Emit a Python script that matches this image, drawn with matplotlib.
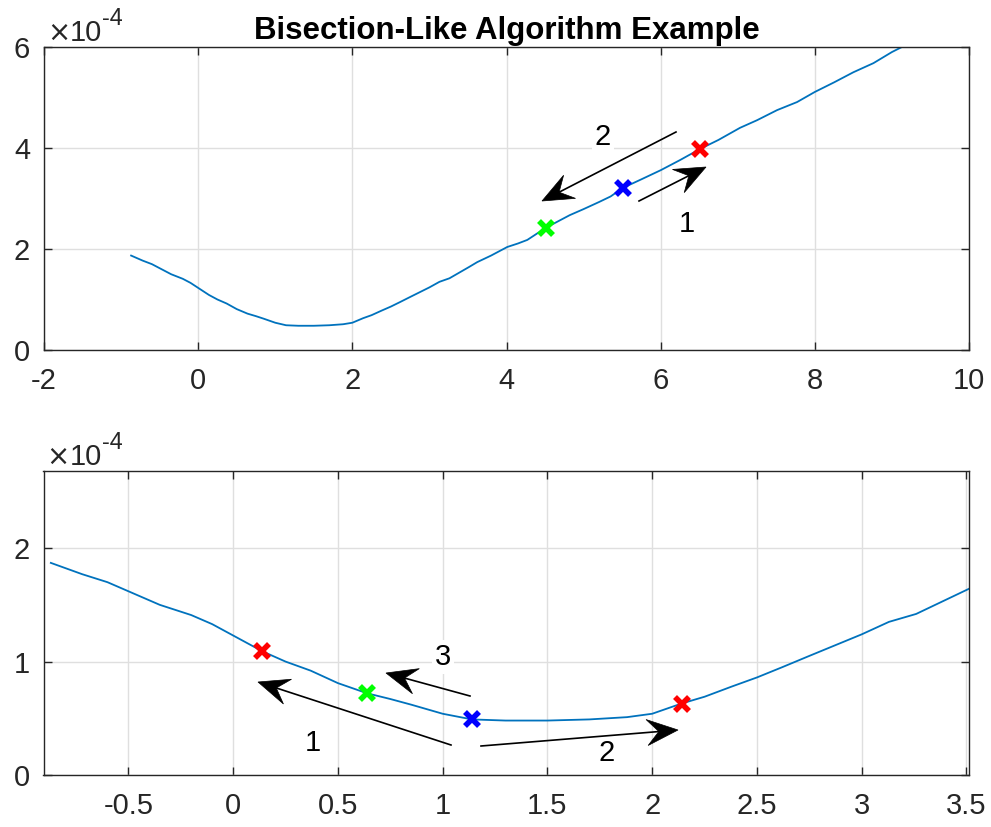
import matplotlib
matplotlib.use('Agg')
import matplotlib.pyplot as plt
import numpy as np
from matplotlib.patches import Polygon
from matplotlib.ticker import FuncFormatter

plt.rcParams['font.family'] = ['Liberation Sans', 'DejaVu Sans']

# curve (y in units of 1e-4)
x = [-0.87, -0.72, -0.6, -0.45, -0.35, -0.2, -0.1, 0.0, 0.14, 0.25, 0.37, 0.5,
     0.64, 0.75, 0.85, 1.0, 1.14, 1.3, 1.5, 1.7, 1.88, 2.0, 2.14, 2.25, 2.38,
     2.5, 2.62, 2.75, 3.0, 3.13, 3.26, 3.51, 3.62, 3.8, 4.01, 4.15, 4.27, 4.51,
     4.82, 5.0, 5.2, 5.35, 5.51, 5.75, 6.0, 6.25, 6.51, 6.75, 7.03, 7.25, 7.51,
     7.77, 8.0, 8.25, 8.5, 8.76, 9.0, 9.13, 9.4, 9.7, 10.0]
y = [1.87, 1.77, 1.70, 1.58, 1.50, 1.41, 1.33, 1.23, 1.09, 1.00, 0.92, 0.81,
     0.72, 0.67, 0.62, 0.54, 0.49, 0.48, 0.48, 0.49, 0.51, 0.54, 0.63, 0.69, 0.78,
     0.86, 0.95, 1.05, 1.24, 1.35, 1.42, 1.64, 1.74, 1.87, 2.04, 2.11, 2.18, 2.42,
     2.67, 2.79, 2.93, 3.04, 3.21, 3.38, 3.56, 3.76, 3.98, 4.16, 4.40, 4.55, 4.75,
     4.91, 5.11, 5.30, 5.50, 5.68, 5.90, 6.00, 6.20, 6.42, 6.65]

# search points
top_px = [4.51, 5.51, 6.51]
top_py = [2.42, 3.21, 3.98]
top_pc = ['#00ff00', '#0000ff', '#ff0000']
bot_px = [0.14, 0.64, 1.14, 2.14]
bot_py = [1.09, 0.72, 0.49, 0.63]
bot_pc = ['#ff0000', '#00ff00', '#0000ff', '#ff0000']

scale = 1e-4
W, H = 991, 827
FS = 21

fig = plt.figure(figsize=(W / 100, H / 100), dpi=100)
ax1 = fig.add_axes([44 / W, 1 - 350 / H, 925 / W, 303 / H])
ax2 = fig.add_axes([43.5 / W, 1 - 775 / H, 925.5 / W, 304 / H])

def style(ax):
    for s in ax.spines.values():
        s.set_color('#262626')
        s.set_linewidth(1.0)
    ax.tick_params(direction='in', length=6, width=1.0, colors='#262626',
                   labelsize=FS, top=True, right=True)
    ax.tick_params(axis='x', pad=12)
    ax.tick_params(axis='y', pad=10)
    ax.grid(True, color='#dfdfdf', linewidth=1.0)
    ax.set_axisbelow(True)
    ax.yaxis.set_major_formatter(FuncFormatter(lambda v, p: '%g' % round(v / scale, 6)))
    ax.xaxis.set_major_formatter(FuncFormatter(lambda v, p: '%g' % round(v, 6)))
    # MATLAB style exponent label
    tx = ax.text(0.003, 1.0, '\u00d7', transform=ax.transAxes, family='DejaVu Sans',
                 fontsize=FS * 0.95, color='#262626', ha='left', va='bottom')
    t = ax.annotate('10', xy=(1, 0), xycoords=tx, fontsize=FS, color='#262626',
                    ha='left', va='bottom')
    ax.annotate('-4', xy=(1, 0.62), xycoords=t, fontsize=FS * 0.8,
                color='#262626', ha='left', va='bottom')

yy = [v * scale for v in y]

ax1.plot(x, yy, color='#0072bd', linewidth=1.3)
for px, py, c in zip(top_px, top_py, top_pc):
    ax1.plot(px, py * scale, marker='x', color=c, markersize=10, markeredgewidth=4)
ax1.set_xlim(-2, 10)
ax1.set_ylim(0, 6e-4)
ax1.set_xticks(range(-2, 11, 2))
ax1.set_yticks([0, 2e-4, 4e-4, 6e-4])
style(ax1)
ax1.set_title('Bisection-Like Algorithm Example', fontsize=22.5, fontweight='bold', pad=6)

ax2.plot(x, yy, color='#0072bd', linewidth=1.3)
for px, py, c in zip(bot_px, bot_py, bot_pc):
    ax2.plot(px, py * scale, marker='x', color=c, markersize=10, markeredgewidth=4)
ax2.set_xlim(-0.905, 3.512)
ax2.set_ylim(0, 2.68e-4)
ax2.set_xticks([-0.5, 0, 0.5, 1, 1.5, 2, 2.5, 3, 3.5])
ax2.set_yticks([0, 1e-4, 2e-4])
style(ax2)

# annotation arrows, figure pixel positions (origin top-left)
def f(px, py):
    return (px / W, 1 - py / H)

arrows = [((639, 201), (706, 167)), ((676, 132), (542, 201)),
          ((451, 745), (258, 682)), ((470, 696), (386, 673)), ((481, 746), (678, 730))]
L, HW, NOTCH = 31, 13, 0.62
for tail, head in arrows:
    t = np.array(tail, float)
    h = np.array(head, float)
    d = (h - t) / np.hypot(*(h - t))
    n = np.array([-d[1], d[0]])
    back = h - d * L
    notch = h - d * L * NOTCH
    pts = [h, back + n * HW, notch, back - n * HW]
    fig.add_artist(plt.Line2D([t[0] / W, notch[0] / W], [1 - t[1] / H, 1 - notch[1] / H],
                              transform=fig.transFigure, color='black', linewidth=1.2, zorder=5))
    fig.add_artist(Polygon([f(*p) for p in pts], closed=True, transform=fig.transFigure,
                           facecolor='black', edgecolor='black', linewidth=0.5, zorder=5))

labels = [('2', 603, 137), ('1', 687, 224), ('1', 313, 743), ('3', 443, 657), ('2', 607, 753)]
for s, px, py in labels:
    fig.text(*f(px, py), s, fontsize=FS, ha='center', va='center', zorder=4,
             bbox=dict(facecolor='white', edgecolor='none', pad=2))

fig.savefig('out.png', dpi=100)
